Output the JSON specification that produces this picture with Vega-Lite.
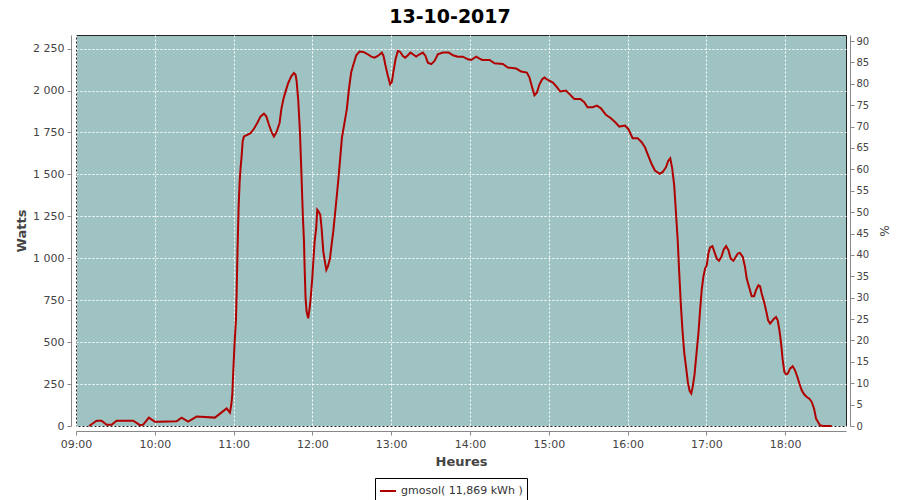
{
  "$schema": "https://vega.github.io/schema/vega-lite/v6.json",
  "autosize": "none",
  "width": 770,
  "height": 391,
  "padding": {"left": 76, "top": 35, "right": 54, "bottom": 74},
  "background": "white",
  "title": {"text": "13-10-2017", "font": "DejaVu Sans", "fontSize": 19, "fontWeight": "bold", "color": "#000", "anchor": "middle", "dx": -11, "offset": 8},
  "config": {
    "view": {"fill": "#9EC3C2", "stroke": "#222", "strokeWidth": 1},
    "axis": {"labelFont": "DejaVu Sans", "labelFontSize": 11, "labelColor": "#444", "titleFont": "DejaVu Sans", "titleColor": "#444", "domainColor": "#888", "tickColor": "#888", "tickSize": 4, "gridColor": "#ffffff", "gridDash": [2, 2], "gridOpacity": 1, "gridWidth": 1},
    "legend": {"labelFont": "DejaVu Sans", "labelFontSize": 11, "labelColor": "#333"}
  },
  "data": {"values": [
    {"t": "2017-10-13T09:10:00", "w": 0},
    {"t": "2017-10-13T09:15:42", "w": 32},
    {"t": "2017-10-13T09:19:30", "w": 32},
    {"t": "2017-10-13T09:23:18", "w": 8},
    {"t": "2017-10-13T09:27:06", "w": 8},
    {"t": "2017-10-13T09:30:54", "w": 32},
    {"t": "2017-10-13T09:43:36", "w": 32},
    {"t": "2017-10-13T09:48:42", "w": 5},
    {"t": "2017-10-13T09:51:12", "w": 8},
    {"t": "2017-10-13T09:55:30", "w": 50},
    {"t": "2017-10-13T10:00:00", "w": 26},
    {"t": "2017-10-13T10:02:36", "w": 26},
    {"t": "2017-10-13T10:16:36", "w": 28},
    {"t": "2017-10-13T10:20:24", "w": 50},
    {"t": "2017-10-13T10:25:24", "w": 26},
    {"t": "2017-10-13T10:31:48", "w": 56},
    {"t": "2017-10-13T10:45:48", "w": 50},
    {"t": "2017-10-13T10:54:42", "w": 105},
    {"t": "2017-10-13T10:57:12", "w": 80},
    {"t": "2017-10-13T10:58:12", "w": 125},
    {"t": "2017-10-13T10:59:00", "w": 185},
    {"t": "2017-10-13T10:59:45", "w": 324},
    {"t": "2017-10-13T11:00:48", "w": 503},
    {"t": "2017-10-13T11:01:48", "w": 632},
    {"t": "2017-10-13T11:02:18", "w": 792},
    {"t": "2017-10-13T11:03:00", "w": 1050},
    {"t": "2017-10-13T11:03:48", "w": 1299},
    {"t": "2017-10-13T11:04:36", "w": 1458},
    {"t": "2017-10-13T11:05:18", "w": 1537},
    {"t": "2017-10-13T11:06:06", "w": 1607},
    {"t": "2017-10-13T11:06:54", "w": 1697},
    {"t": "2017-10-13T11:07:54", "w": 1726},
    {"t": "2017-10-13T11:10:24", "w": 1736},
    {"t": "2017-10-13T11:12:54", "w": 1746},
    {"t": "2017-10-13T11:15:30", "w": 1772},
    {"t": "2017-10-13T11:18:00", "w": 1806},
    {"t": "2017-10-13T11:20:36", "w": 1846},
    {"t": "2017-10-13T11:23:06", "w": 1862},
    {"t": "2017-10-13T11:24:54", "w": 1846},
    {"t": "2017-10-13T11:26:54", "w": 1796},
    {"t": "2017-10-13T11:28:42", "w": 1756},
    {"t": "2017-10-13T11:30:42", "w": 1726},
    {"t": "2017-10-13T11:32:42", "w": 1752},
    {"t": "2017-10-13T11:35:00", "w": 1806},
    {"t": "2017-10-13T11:36:18", "w": 1886},
    {"t": "2017-10-13T11:37:48", "w": 1945},
    {"t": "2017-10-13T11:39:36", "w": 1995},
    {"t": "2017-10-13T11:41:36", "w": 2045},
    {"t": "2017-10-13T11:43:54", "w": 2085},
    {"t": "2017-10-13T11:45:54", "w": 2104},
    {"t": "2017-10-13T11:47:12", "w": 2094},
    {"t": "2017-10-13T11:48:00", "w": 2055},
    {"t": "2017-10-13T11:49:12", "w": 1945},
    {"t": "2017-10-13T11:50:30", "w": 1756},
    {"t": "2017-10-13T11:51:30", "w": 1537},
    {"t": "2017-10-13T11:52:48", "w": 1239},
    {"t": "2017-10-13T11:53:36", "w": 1100},
    {"t": "2017-10-13T11:54:06", "w": 941},
    {"t": "2017-10-13T11:54:48", "w": 762},
    {"t": "2017-10-13T11:55:36", "w": 682},
    {"t": "2017-10-13T11:56:48", "w": 642},
    {"t": "2017-10-13T11:57:54", "w": 702},
    {"t": "2017-10-13T11:58:54", "w": 782},
    {"t": "2017-10-13T11:59:54", "w": 881},
    {"t": "2017-10-13T12:00:42", "w": 981},
    {"t": "2017-10-13T12:01:42", "w": 1100},
    {"t": "2017-10-13T12:02:54", "w": 1179},
    {"t": "2017-10-13T12:03:42", "w": 1289},
    {"t": "2017-10-13T12:04:42", "w": 1279},
    {"t": "2017-10-13T12:06:00", "w": 1259},
    {"t": "2017-10-13T12:07:00", "w": 1179},
    {"t": "2017-10-13T12:08:18", "w": 1040},
    {"t": "2017-10-13T12:09:30", "w": 981},
    {"t": "2017-10-13T12:10:36", "w": 931},
    {"t": "2017-10-13T12:11:48", "w": 951},
    {"t": "2017-10-13T12:13:24", "w": 1000},
    {"t": "2017-10-13T12:14:36", "w": 1080},
    {"t": "2017-10-13T12:15:54", "w": 1160},
    {"t": "2017-10-13T12:16:54", "w": 1239},
    {"t": "2017-10-13T12:17:54", "w": 1319},
    {"t": "2017-10-13T12:18:54", "w": 1398},
    {"t": "2017-10-13T12:20:12", "w": 1508},
    {"t": "2017-10-13T12:22:30", "w": 1720},
    {"t": "2017-10-13T12:24:30", "w": 1810},
    {"t": "2017-10-13T12:26:12", "w": 1888},
    {"t": "2017-10-13T12:27:48", "w": 2007},
    {"t": "2017-10-13T12:29:30", "w": 2107},
    {"t": "2017-10-13T12:31:18", "w": 2157},
    {"t": "2017-10-13T12:33:24", "w": 2210},
    {"t": "2017-10-13T12:35:54", "w": 2232},
    {"t": "2017-10-13T12:38:54", "w": 2230},
    {"t": "2017-10-13T12:42:12", "w": 2216},
    {"t": "2017-10-13T12:44:48", "w": 2202},
    {"t": "2017-10-13T12:47:18", "w": 2196},
    {"t": "2017-10-13T12:49:48", "w": 2206},
    {"t": "2017-10-13T12:52:54", "w": 2226},
    {"t": "2017-10-13T12:54:12", "w": 2206},
    {"t": "2017-10-13T12:55:42", "w": 2147},
    {"t": "2017-10-13T12:57:30", "w": 2087},
    {"t": "2017-10-13T12:59:12", "w": 2037},
    {"t": "2017-10-13T13:00:30", "w": 2051},
    {"t": "2017-10-13T13:01:48", "w": 2117},
    {"t": "2017-10-13T13:03:18", "w": 2186},
    {"t": "2017-10-13T13:05:06", "w": 2236},
    {"t": "2017-10-13T13:06:54", "w": 2230},
    {"t": "2017-10-13T13:08:54", "w": 2206},
    {"t": "2017-10-13T13:10:42", "w": 2196},
    {"t": "2017-10-13T13:12:42", "w": 2210},
    {"t": "2017-10-13T13:14:42", "w": 2226},
    {"t": "2017-10-13T13:16:30", "w": 2216},
    {"t": "2017-10-13T13:19:00", "w": 2202},
    {"t": "2017-10-13T13:21:36", "w": 2216},
    {"t": "2017-10-13T13:24:06", "w": 2226},
    {"t": "2017-10-13T13:26:06", "w": 2206},
    {"t": "2017-10-13T13:27:54", "w": 2166},
    {"t": "2017-10-13T13:30:30", "w": 2157},
    {"t": "2017-10-13T13:33:00", "w": 2176},
    {"t": "2017-10-13T13:35:30", "w": 2216},
    {"t": "2017-10-13T13:39:18", "w": 2226},
    {"t": "2017-10-13T13:43:54", "w": 2226},
    {"t": "2017-10-13T13:47:00", "w": 2210},
    {"t": "2017-10-13T13:50:48", "w": 2202},
    {"t": "2017-10-13T13:54:36", "w": 2202},
    {"t": "2017-10-13T13:58:24", "w": 2186},
    {"t": "2017-10-13T14:00:54", "w": 2182},
    {"t": "2017-10-13T14:04:42", "w": 2202},
    {"t": "2017-10-13T14:07:18", "w": 2190},
    {"t": "2017-10-13T14:09:18", "w": 2182},
    {"t": "2017-10-13T14:14:54", "w": 2182},
    {"t": "2017-10-13T14:18:42", "w": 2162},
    {"t": "2017-10-13T14:25:00", "w": 2158},
    {"t": "2017-10-13T14:28:48", "w": 2137},
    {"t": "2017-10-13T14:35:12", "w": 2131},
    {"t": "2017-10-13T14:39:00", "w": 2113},
    {"t": "2017-10-13T14:43:18", "w": 2107},
    {"t": "2017-10-13T14:45:18", "w": 2077},
    {"t": "2017-10-13T14:47:24", "w": 2017},
    {"t": "2017-10-13T14:49:06", "w": 1972},
    {"t": "2017-10-13T14:50:54", "w": 1987},
    {"t": "2017-10-13T14:52:54", "w": 2037},
    {"t": "2017-10-13T14:55:00", "w": 2067},
    {"t": "2017-10-13T14:56:42", "w": 2077},
    {"t": "2017-10-13T14:59:18", "w": 2063},
    {"t": "2017-10-13T15:03:06", "w": 2047},
    {"t": "2017-10-13T15:06:12", "w": 2020},
    {"t": "2017-10-13T15:08:42", "w": 1994},
    {"t": "2017-10-13T15:13:00", "w": 2000},
    {"t": "2017-10-13T15:15:36", "w": 1980},
    {"t": "2017-10-13T15:19:24", "w": 1950},
    {"t": "2017-10-13T15:24:00", "w": 1950},
    {"t": "2017-10-13T15:27:00", "w": 1930},
    {"t": "2017-10-13T15:29:30", "w": 1900},
    {"t": "2017-10-13T15:33:24", "w": 1900},
    {"t": "2017-10-13T15:36:36", "w": 1910},
    {"t": "2017-10-13T15:39:42", "w": 1894},
    {"t": "2017-10-13T15:43:30", "w": 1855},
    {"t": "2017-10-13T15:47:18", "w": 1835},
    {"t": "2017-10-13T15:50:36", "w": 1811},
    {"t": "2017-10-13T15:53:42", "w": 1785},
    {"t": "2017-10-13T15:58:00", "w": 1791},
    {"t": "2017-10-13T16:00:30", "w": 1771},
    {"t": "2017-10-13T16:03:48", "w": 1716},
    {"t": "2017-10-13T16:07:36", "w": 1716},
    {"t": "2017-10-13T16:10:42", "w": 1692},
    {"t": "2017-10-13T16:13:12", "w": 1662},
    {"t": "2017-10-13T16:15:42", "w": 1612},
    {"t": "2017-10-13T16:18:18", "w": 1562},
    {"t": "2017-10-13T16:20:48", "w": 1523},
    {"t": "2017-10-13T16:24:24", "w": 1503},
    {"t": "2017-10-13T16:26:36", "w": 1513},
    {"t": "2017-10-13T16:29:12", "w": 1542},
    {"t": "2017-10-13T16:31:00", "w": 1582},
    {"t": "2017-10-13T16:32:30", "w": 1596},
    {"t": "2017-10-13T16:34:00", "w": 1533},
    {"t": "2017-10-13T16:35:30", "w": 1433},
    {"t": "2017-10-13T16:36:48", "w": 1274},
    {"t": "2017-10-13T16:38:06", "w": 1115},
    {"t": "2017-10-13T16:39:18", "w": 916},
    {"t": "2017-10-13T16:40:36", "w": 717},
    {"t": "2017-10-13T16:41:54", "w": 558},
    {"t": "2017-10-13T16:43:06", "w": 439},
    {"t": "2017-10-13T16:44:42", "w": 339},
    {"t": "2017-10-13T16:45:54", "w": 260},
    {"t": "2017-10-13T16:47:12", "w": 210},
    {"t": "2017-10-13T16:48:30", "w": 194},
    {"t": "2017-10-13T16:49:42", "w": 239},
    {"t": "2017-10-13T16:51:00", "w": 309},
    {"t": "2017-10-13T16:52:18", "w": 419},
    {"t": "2017-10-13T16:53:54", "w": 551},
    {"t": "2017-10-13T16:55:12", "w": 690},
    {"t": "2017-10-13T16:56:24", "w": 810},
    {"t": "2017-10-13T16:57:42", "w": 889},
    {"t": "2017-10-13T16:59:00", "w": 939},
    {"t": "2017-10-13T17:00:18", "w": 959},
    {"t": "2017-10-13T17:01:30", "w": 1028},
    {"t": "2017-10-13T17:02:48", "w": 1064},
    {"t": "2017-10-13T17:04:36", "w": 1072},
    {"t": "2017-10-13T17:06:06", "w": 1038},
    {"t": "2017-10-13T17:07:54", "w": 998},
    {"t": "2017-10-13T17:09:36", "w": 985},
    {"t": "2017-10-13T17:11:24", "w": 1008},
    {"t": "2017-10-13T17:13:12", "w": 1052},
    {"t": "2017-10-13T17:15:00", "w": 1072},
    {"t": "2017-10-13T17:16:48", "w": 1048},
    {"t": "2017-10-13T17:18:30", "w": 998},
    {"t": "2017-10-13T17:20:36", "w": 985},
    {"t": "2017-10-13T17:22:18", "w": 1008},
    {"t": "2017-10-13T17:23:54", "w": 1028},
    {"t": "2017-10-13T17:25:36", "w": 1032},
    {"t": "2017-10-13T17:27:42", "w": 1008},
    {"t": "2017-10-13T17:29:24", "w": 949},
    {"t": "2017-10-13T17:30:42", "w": 879},
    {"t": "2017-10-13T17:32:30", "w": 829},
    {"t": "2017-10-13T17:34:30", "w": 774},
    {"t": "2017-10-13T17:36:18", "w": 774},
    {"t": "2017-10-13T17:37:48", "w": 810},
    {"t": "2017-10-13T17:39:36", "w": 839},
    {"t": "2017-10-13T17:40:54", "w": 833},
    {"t": "2017-10-13T17:42:06", "w": 790},
    {"t": "2017-10-13T17:43:54", "w": 740},
    {"t": "2017-10-13T17:45:24", "w": 690},
    {"t": "2017-10-13T17:47:00", "w": 630},
    {"t": "2017-10-13T17:48:30", "w": 611},
    {"t": "2017-10-13T17:50:00", "w": 625},
    {"t": "2017-10-13T17:51:30", "w": 640},
    {"t": "2017-10-13T17:53:00", "w": 650},
    {"t": "2017-10-13T17:54:18", "w": 630},
    {"t": "2017-10-13T17:55:36", "w": 571},
    {"t": "2017-10-13T17:56:54", "w": 491},
    {"t": "2017-10-13T17:58:06", "w": 392},
    {"t": "2017-10-13T17:59:24", "w": 322},
    {"t": "2017-10-13T18:00:42", "w": 308},
    {"t": "2017-10-13T18:01:54", "w": 312},
    {"t": "2017-10-13T18:03:42", "w": 342},
    {"t": "2017-10-13T18:05:42", "w": 356},
    {"t": "2017-10-13T18:07:30", "w": 332},
    {"t": "2017-10-13T18:09:18", "w": 292},
    {"t": "2017-10-13T18:10:48", "w": 253},
    {"t": "2017-10-13T18:12:36", "w": 213},
    {"t": "2017-10-13T18:14:24", "w": 189},
    {"t": "2017-10-13T18:16:24", "w": 173},
    {"t": "2017-10-13T18:18:24", "w": 163},
    {"t": "2017-10-13T18:20:12", "w": 143},
    {"t": "2017-10-13T18:22:00", "w": 103},
    {"t": "2017-10-13T18:23:30", "w": 44},
    {"t": "2017-10-13T18:25:00", "w": 24},
    {"t": "2017-10-13T18:26:30", "w": 4},
    {"t": "2017-10-13T18:28:36", "w": 0},
    {"t": "2017-10-13T18:35:24", "w": 0}
  ]},
  "layer": [
    {
      "mark": {"type": "line", "strokeWidth": 2, "interpolate": "linear"},
      "encoding": {
        "x": {"field": "t", "type": "temporal",
          "scale": {"domain": [{"year": 2017, "month": 10, "date": 13, "hours": 9, "minutes": 0}, {"year": 2017, "month": 10, "date": 13, "hours": 18, "minutes": 46, "seconds": 18}], "nice": false},
          "axis": {"title": "Heures", "titleFontSize": 13, "titleFontWeight": "bold", "format": "%H:%M",
            "values": [
              {"year": 2017, "month": 10, "date": 13, "hours": 9},
              {"year": 2017, "month": 10, "date": 13, "hours": 10},
              {"year": 2017, "month": 10, "date": 13, "hours": 11},
              {"year": 2017, "month": 10, "date": 13, "hours": 12},
              {"year": 2017, "month": 10, "date": 13, "hours": 13},
              {"year": 2017, "month": 10, "date": 13, "hours": 14},
              {"year": 2017, "month": 10, "date": 13, "hours": 15},
              {"year": 2017, "month": 10, "date": 13, "hours": 16},
              {"year": 2017, "month": 10, "date": 13, "hours": 17},
              {"year": 2017, "month": 10, "date": 13, "hours": 18}
            ],
            "offset": 5, "labelPadding": 3, "titlePadding": 6, "labelFlush": false}},
        "y": {"field": "w", "type": "quantitative",
          "scale": {"domain": [0, 2331], "nice": false, "zero": true},
          "axis": {"title": "Watts", "titleFontSize": 13, "titleFontWeight": "bold", "values": [0, 250, 500, 750, 1000, 1250, 1500, 1750, 2000, 2250], "labelExpr": "replace(format(datum.value, ','), ',', ' ')", "offset": 5, "labelPadding": 3, "titlePadding": 4}},
        "color": {"datum": "gmosol( 11,869 kWh )", "type": "nominal",
          "scale": {"range": ["#B00000"]},
          "legend": {"title": null, "orient": "none", "legendX": 299, "legendY": 443, "direction": "horizontal", "strokeColor": "#000", "fillColor": "#fff", "padding": 4, "symbolType": "stroke", "symbolSize": 256, "symbolStrokeWidth": 2, "labelOffset": 4}}
      }
    },
    {
      "mark": {"type": "line", "opacity": 0},
      "encoding": {
        "x": {"field": "t", "type": "temporal"},
        "y": {"field": "w", "type": "quantitative",
          "scale": {"domain": [0, 2331], "nice": false, "zero": true},
          "axis": {"orient": "right", "title": "%", "titleFontSize": 12, "titleFontWeight": "normal", "titleAngle": 90, "grid": false, "labelFontSize": 10, "values": [0, 127.5, 255, 382.5, 510, 637.5, 765, 892.5, 1020, 1147.5, 1275, 1402.5, 1530, 1657.5, 1785, 1912.5, 2040, 2167.5, 2295], "labelExpr": "format(round(datum.value / 25.5), 'd')", "offset": 4, "labelPadding": 2, "titlePadding": 8}}
      }
    }
  ],
  "resolve": {"scale": {"y": "independent"}}
}
